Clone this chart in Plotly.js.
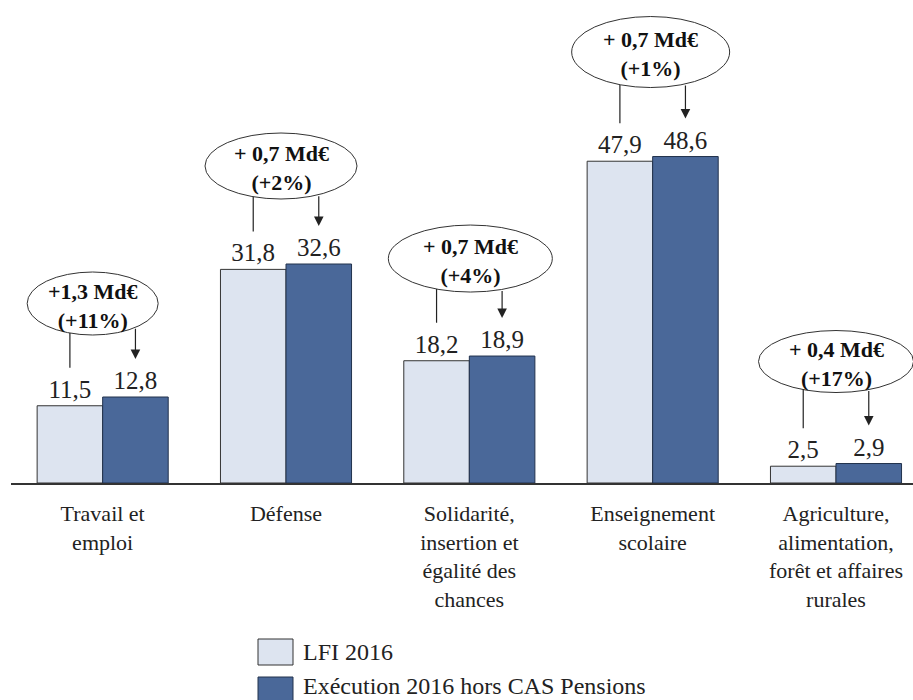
<!DOCTYPE html>
<html>
<head>
<meta charset="utf-8">
<script src="https://cdn.plot.ly/plotly-3.0.1.min.js"></script>
<style>html,body{margin:0;padding:0;background:#fff;}#chart{width:913px;height:700px;}</style>
</head>
<body>
<div id="chart"></div>
<script>
// ---- data ----
const categories = [
  "Travail et<br>emploi",
  "Défense",
  "Solidarité,<br>insertion et<br>égalité des<br>chances",
  "Enseignement<br>scolaire",
  "Agriculture,<br>alimentation,<br>forêt et affaires<br>rurales"
];
const seriesNames = ["LFI 2016", "Exécution 2016 hors CAS Pensions"];
const lfi2016 = [11.5, 31.8, 18.2, 47.9, 2.5];
const execution2016 = [12.8, 32.6, 18.9, 48.6, 2.9];
const changeLabels = [
  "+1,3 Md€<br>(+11%)",
  "+ 0,7 Md€<br>(+2%)",
  "+ 0,7 Md€<br>(+4%)",
  "+ 0,7 Md€<br>(+1%)",
  "+ 0,4 Md€<br>(+17%)"
];

// ---- layout geometry / styles ----
const W = 913, H = 700;
const M = {l: 11, r: 0, t: 0, b: 217};
const plotW = W - M.l - M.r, plotH = H - M.t - M.b;
const xRange = [-0.5, 4.42];
const yMax = 71.9;
const pxX = plotW / (xRange[1] - xRange[0]);
const pxY = plotH / yMax;
const bargap = 0.285;
const barOff = (1 - bargap) / 4;   // center offset of each bar within group
const lightColor = "rgb(221,228,240)";
const darkColor = "rgb(74,104,153)";
const serif = "Liberation Serif, Times New Roman, serif";
const textColor = "#222";

// per-ellipse styling (px): x shift, width, height, gap above the higher bar
const ellStyle = {
  dx: [-10, -5, 1, -2, 0],
  w: [131, 152, 164, 158, 155],
  h: [63, 66, 67, 71, 62],
  gap: [62, 65, 64, 69, 71]
};
const connectorGap = 38; // px between bar top and connector end

const fmt = v => v.toFixed(1).replace('.', ',');

const traces = [
  {
    type: 'bar', name: seriesNames[0], x: categories, y: lfi2016,
    marker: {color: lightColor, line: {color: '#333', width: 1}},
    text: lfi2016.map(fmt), textposition: 'outside', cliponaxis: false,
    constraintext: 'none',
    textfont: {family: serif, size: 25, color: textColor},
    hoverinfo: 'skip', showlegend: false
  },
  {
    type: 'bar', name: seriesNames[1], x: categories, y: execution2016,
    marker: {color: darkColor, line: {color: '#22324d', width: 1}},
    text: execution2016.map(fmt), textposition: 'outside', cliponaxis: false,
    constraintext: 'none',
    textfont: {family: serif, size: 25, color: textColor},
    hoverinfo: 'skip', showlegend: false
  }
];

const shapes = [];
const annotations = [];

categories.forEach((c, i) => {
  const cx = i + ellStyle.dx[i] / pxX;              // data x
  const rxPx = ellStyle.w[i] / 2, ryPx = ellStyle.h[i] / 2;
  const yBottom = execution2016[i] + ellStyle.gap[i] / pxY;  // data y
  const yTop = yBottom + ellStyle.h[i] / pxY;
  const cy = (yBottom + yTop) / 2;
  shapes.push({
    type: 'circle', xref: 'x', yref: 'y',
    x0: cx - rxPx / pxX, x1: cx + rxPx / pxX, y0: yBottom, y1: yTop,
    line: {color: '#333', width: 1}, fillcolor: '#fff', layer: 'above'
  });
  const edgeY = (xd) => {
    const dxp = (xd - cx) * pxX;
    const f = Math.sqrt(Math.max(0, 1 - (dxp / rxPx) ** 2));
    return cy - (ryPx * f) / pxY;
  };
  const xl = i - barOff;
  shapes.push({
    type: 'line', xref: 'x', yref: 'y',
    x0: xl, x1: xl, y0: lfi2016[i] + connectorGap / pxY, y1: edgeY(xl),
    line: {color: '#222', width: 1.2}
  });
  const xr = i + barOff;
  annotations.push({
    xref: 'x', yref: 'y', axref: 'x', ayref: 'y',
    x: xr, y: execution2016[i] + connectorGap / pxY,
    ax: xr, ay: edgeY(xr),
    text: '', showarrow: true, arrowhead: 2, arrowsize: 1.6, arrowwidth: 1.2,
    arrowcolor: '#222'
  });
  annotations.push({
    xref: 'x', yref: 'y', x: cx, y: cy - 2 / pxY,
    text: '<b>' + changeLabels[i] + '</b>', showarrow: false,
    font: {family: serif, size: 22, color: '#111'}, align: 'center'
  });
});

// custom legend (large swatches)
const px2paperX = px => (px - M.l) / plotW;
const px2paperY = py => (M.t + plotH - py) / plotH;
const legendItems = [
  {y0: 639, y1: 665, color: lightColor, line: '#333', ty: 652},
  {y0: 677, y1: 703, color: darkColor, line: '#22324d', ty: 686}
];
legendItems.forEach((it, k) => {
  shapes.push({
    type: 'rect', xref: 'paper', yref: 'paper',
    x0: px2paperX(258), x1: px2paperX(293), y0: px2paperY(it.y1), y1: px2paperY(it.y0),
    fillcolor: it.color, line: {color: it.line, width: 1}
  });
  annotations.push({
    xref: 'paper', yref: 'paper', x: px2paperX(301), y: px2paperY(it.ty),
    xanchor: 'left', yanchor: 'middle', showarrow: false,
    text: seriesNames[k], font: {family: serif, size: 24, color: textColor}
  });
});

const layout = {
  width: W, height: H, margin: M,
  paper_bgcolor: '#fff', plot_bgcolor: '#fff',
  barmode: 'group', bargap: bargap, bargroupgap: 0,
  showlegend: false,
  xaxis: {
    type: 'category', range: xRange, showline: true, linecolor: '#333', linewidth: 1.5,
    ticks: '', showgrid: false, zeroline: false, fixedrange: true,
    tickfont: {family: serif, size: 22, color: textColor},
    ticklabelstandoff: 10
  },
  yaxis: {range: [0, yMax], visible: false, fixedrange: true, showgrid: false, zeroline: false},
  shapes: shapes,
  annotations: annotations
};

Plotly.newPlot('chart', traces, layout, {displayModeBar: false, staticPlot: true});
</script>
</body>
</html>
